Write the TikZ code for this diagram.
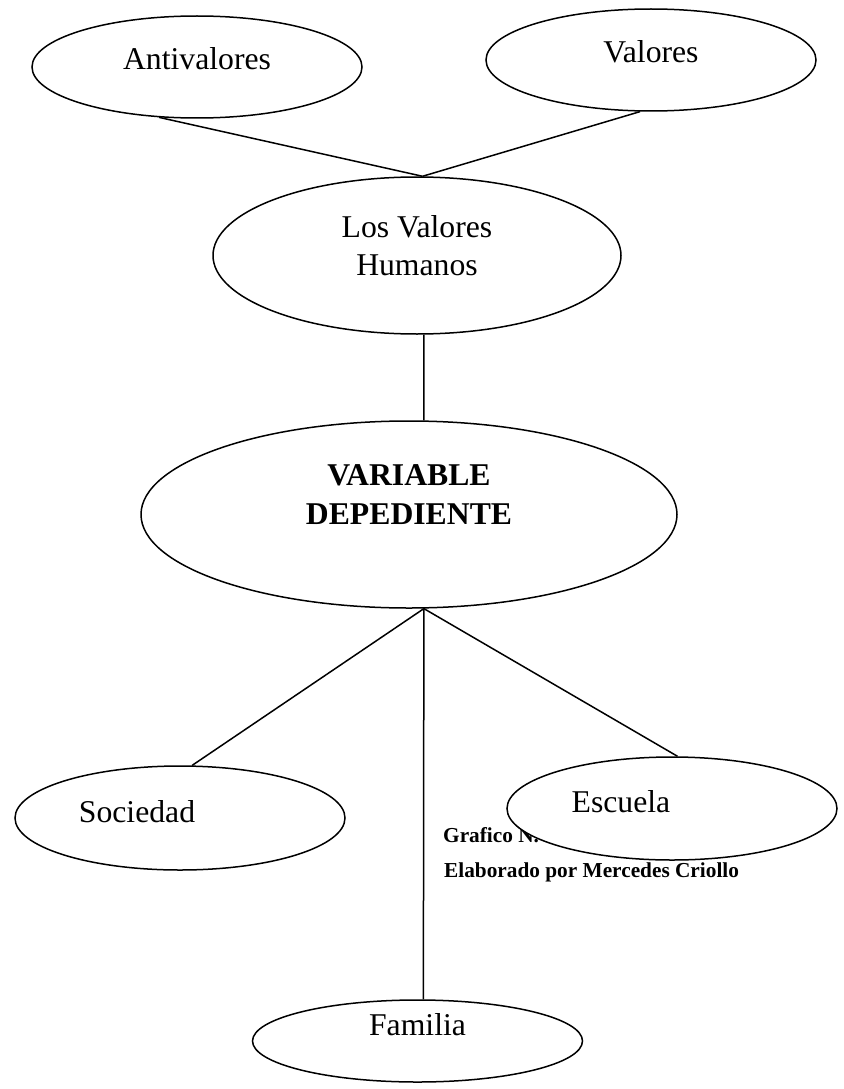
\documentclass[tikz,border=0pt]{standalone}
\usepackage{fontspec}
\setmainfont{Liberation Serif}
\usetikzlibrary{shapes.geometric}
\begin{document}
\begin{tikzpicture}[x=1pt,y=-1pt,
  oval/.style={draw,ellipse,inner sep=0pt,line width=1.5pt},
  lbl/.style={anchor=base,inner sep=0pt,font=\fontsize{31.7}{38.5}\selectfont,align=center},
  note/.style={anchor=base west,inner sep=0pt,font=\fontsize{21.3}{25}\selectfont\bfseries},
  link/.style={line width=1.5pt}]
\useasboundingbox (0,0) rectangle (843,1089);
% ellipses
\node[oval,minimum width=330pt,minimum height=102pt] (anti) at (197,67) {};
\node[oval,minimum width=330pt,minimum height=102pt] (val) at (651,60) {};
\node[oval,minimum width=408pt,minimum height=157pt] (hum) at (417,255.5) {};
\node[oval,minimum width=536pt,minimum height=187pt] (var) at (409,514.5) {};
\node[oval,minimum width=330pt,minimum height=104pt] (soc) at (180,818) {};
\node[oval,minimum width=330pt,minimum height=82pt] (fam) at (417.5,1041) {};
% texts
\node[lbl] (tanti) at (197,70) {Antivalores};
\node[lbl] (tval) at (651,63) {Valores};
\node[lbl] (thum1) at (417,237) {Los Valores};
\node[lbl] (thum2) at (417,275) {Humanos};
\node[lbl,font=\fontsize{31.7}{38.5}\selectfont\bfseries] (tvar1) at (409,485) {VARIABLE};
\node[lbl,font=\fontsize{31.7}{38.5}\selectfont\bfseries] (tvar2) at (409,524) {DEPEDIENTE};
\node[lbl] (tsoc) at (137,822) {Sociedad};
\node[lbl] (tfam) at (417.5,1035) {Familia};
\node[note] (graf) at (443,842) {Grafico N.};
\node[note] (elab) at (444,877) {Elaborado por Mercedes Criollo};
% Escuela on top of the caption
\node[oval,fill=white,minimum width=330pt,minimum height=103pt] (esc) at (672,808.5) {};
\node[lbl] (tesc) at (621,812) {Escuela};
% connectors
\draw[link] (anti.233.5) -- (hum.86);
\draw[link] (val.258) -- (hum.86);
\draw[link] (hum.-85.7) -- (var.81.5);
\draw[link] (var.-81.4) -- (soc.77);
\draw[link] (var.-81.4) -- (esc.84.5);
\draw[link] (var.-81.4) -- (fam.82.4);
\end{tikzpicture}
\end{document}
